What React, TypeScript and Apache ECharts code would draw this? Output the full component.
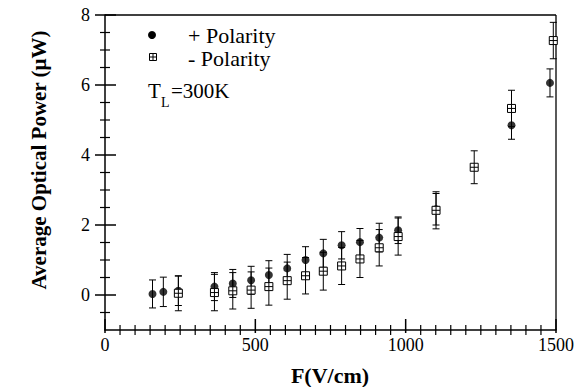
import React, { useEffect, useRef } from "react";
import * as echarts from "echarts";

// + Polarity (filled circles)
const fieldPlus = [158, 194, 244, 364, 425, 486, 545, 606, 667, 726, 787, 848, 912, 975, 1101, 1352, 1480];
const powerPlus = [0.03, 0.09, 0.12, 0.24, 0.33, 0.42, 0.57, 0.76, 1.0, 1.19, 1.42, 1.51, 1.64, 1.85, 2.45, 4.85, 6.06];
const errPlus = [0.4, 0.42, 0.42, 0.4, 0.4, 0.4, 0.41, 0.4, 0.38, 0.4, 0.39, 0.39, 0.41, 0.38, 0.45, 0.4, 0.4];

// - Polarity (open squares with cross)
const fieldMinus = [244, 364, 425, 486, 545, 606, 667, 726, 787, 848, 912, 975, 1101, 1228, 1352, 1491];
const powerMinus = [0.05, 0.07, 0.12, 0.14, 0.24, 0.41, 0.55, 0.68, 0.83, 1.03, 1.35, 1.67, 2.42, 3.65, 5.33, 7.27];
const errMinus = [0.5, 0.52, 0.52, 0.52, 0.53, 0.53, 0.52, 0.54, 0.53, 0.53, 0.52, 0.53, 0.53, 0.47, 0.52, 0.52];

// tick labels
const xTickLabels = [0, 500, 1000, 1500];
const yTickLabels = [0, 2, 4, 6, 8];
const xMinorStep = 50;
const yMinorStep = 0.5;

const FONT = "Liberation Serif";
const X_MIN = 0, X_MAX = 1500, Y_MIN = -1, Y_MAX = 8;

// error bar: data item = [x, y, err]
function errorRenderer(params: any, api: any) {
  const x = api.value(0);
  const y = api.value(1);
  const e = api.value(2);
  const p1 = api.coord([x, y + e]);
  const p2 = api.coord([x, y - e]);
  const w = 3.5;
  const style = { stroke: "#000", lineWidth: 1 };
  return {
    type: "group",
    children: [
      { type: "line", shape: { x1: p1[0], y1: p1[1], x2: p2[0], y2: p2[1] }, style },
      { type: "line", shape: { x1: p1[0] - w, y1: p1[1], x2: p1[0] + w, y2: p1[1] }, style },
      { type: "line", shape: { x1: p2[0] - w, y1: p2[1], x2: p2[0] + w, y2: p2[1] }, style },
    ],
  };
}

// open square with a cross: data item = [x, y]
function squareRenderer(params: any, api: any) {
  const p = api.coord([api.value(0), api.value(1)]);
  const h = 4;
  const style = { stroke: "#000", lineWidth: 1 };
  return {
    type: "group",
    children: [
      { type: "rect", shape: { x: p[0] - h, y: p[1] - h, width: 2 * h, height: 2 * h }, style: { fill: "#fff", stroke: "#000", lineWidth: 1 } },
      { type: "line", shape: { x1: p[0], y1: p[1] - h, x2: p[0], y2: p[1] + h }, style },
      { type: "line", shape: { x1: p[0] - h, y1: p[1], x2: p[0] + h, y2: p[1] }, style },
    ],
  };
}

// kind: 0 = x major, 1 = x minor, 2 = y major, 3 = y minor
function tickRenderer(params: any, api: any) {
  const v = api.value(0);
  const k = api.value(1);
  if (k < 2) {
    const p = api.coord([v, Y_MIN]);
    const inside = k === 0 ? 11 : 5;
    const outside = k === 0 ? 3 : 5;
    return {
      type: "line",
      shape: { x1: p[0], y1: p[1] - inside, x2: p[0], y2: p[1] + outside },
      style: { stroke: "#000", lineWidth: k === 0 ? 1.5 : 1.2 },
    };
  }
  const p = api.coord([X_MIN, v]);
  const inside = k === 2 ? 11 : 5;
  const outside = k === 2 ? 10 : 5;
  return {
    type: "line",
    shape: { x1: p[0] - outside, y1: p[1], x2: p[0] + inside, y2: p[1] },
    style: { stroke: "#000", lineWidth: k === 2 ? 1.5 : 1.2 },
  };
}

export default function App() {
  const ref = useRef<HTMLDivElement>(null);
  useEffect(() => {
    if (!ref.current) return;
    const chart = echarts.init(ref.current, undefined, { renderer: "svg" });
    const plusData = fieldPlus.map((f, i) => [f, powerPlus[i]]);
    const minusData = fieldMinus.map((f, i) => [f, powerMinus[i]]);
    const plusErr = fieldPlus.map((f, i) => [f, powerPlus[i], errPlus[i]]);
    const minusErr = fieldMinus.map((f, i) => [f, powerMinus[i], errMinus[i]]);

    // tick positions (kind 0..3), placed through the library's scales
    const ticks: number[][] = [];
    xTickLabels.forEach((v) => ticks.push([v, 0]));
    for (let v = X_MIN + xMinorStep; v < X_MAX; v += xMinorStep) {
      if (!xTickLabels.includes(v)) ticks.push([v, 1]);
    }
    yTickLabels.forEach((v) => ticks.push([v, 2]));
    for (let v = Y_MIN + yMinorStep; v < Y_MAX; v += yMinorStep) {
      if (!yTickLabels.includes(v)) ticks.push([v, 3]);
    }

    chart.setOption({
      animation: false,
      backgroundColor: "#fff",
      grid: { left: 105, right: 26, top: 15, bottom: 57 },
      xAxis: {
        type: "value",
        min: X_MIN,
        max: X_MAX,
        interval: 500,
        splitLine: { show: false },
        axisLine: { show: true, onZero: false, lineStyle: { color: "#000", width: 1.5 } },
        axisTick: { show: false },
        axisLabel: {
          formatter: (v: number) => String(v),
          margin: 6,
          fontSize: 18,
          fontFamily: FONT,
          color: "#000",
        },
      },
      yAxis: {
        type: "value",
        min: Y_MIN,
        max: Y_MAX,
        interval: 1,
        splitLine: { show: false },
        axisLine: { show: true, onZero: false, lineStyle: { color: "#000", width: 1.5 } },
        axisTick: { show: false },
        axisLabel: {
          formatter: (v: number) => (yTickLabels.includes(v) ? String(v) : ""),
          margin: 15,
          fontSize: 18,
          fontFamily: FONT,
          color: "#000",
        },
      },
      graphic: [
        // frame: top and right edges
        { type: "line", shape: { x1: 105, y1: 15, x2: 556, y2: 15 }, style: { stroke: "#000", lineWidth: 1.3 } },
        { type: "line", shape: { x1: 556, y1: 15, x2: 556, y2: 330 }, style: { stroke: "#000", lineWidth: 1.3 } },
        // axis titles
        {
          type: "text",
          x: 39,
          y: 160,
          rotation: Math.PI / 2,
          style: { text: "Average Optical Power (μW)", fontSize: 21, fontWeight: "bold", fontFamily: FONT, fill: "#000", align: "center", verticalAlign: "middle" },
        },
        {
          type: "text",
          x: 330,
          y: 375,
          style: { text: "F(V/cm)", fontSize: 22, fontWeight: "bold", fontFamily: FONT, fill: "#000", align: "center", verticalAlign: "middle" },
        },
        // legend
        { type: "circle", shape: { cx: 152, cy: 35, r: 4 }, style: { fill: "#000" } },
        { type: "rect", shape: { x: 149.5, y: 53.5, width: 7, height: 7 }, style: { fill: "#fff", stroke: "#000", lineWidth: 1 } },
        { type: "line", shape: { x1: 153, y1: 53.5, x2: 153, y2: 60.5 }, style: { stroke: "#000", lineWidth: 1 } },
        { type: "line", shape: { x1: 149.5, y1: 57, x2: 156.5, y2: 57 }, style: { stroke: "#000", lineWidth: 1 } },
        { type: "text", x: 188, y: 35, style: { text: "+ Polarity", fontSize: 22, fontFamily: FONT, fill: "#000", verticalAlign: "middle" } },
        { type: "text", x: 188, y: 58, style: { text: "- Polarity", fontSize: 22, fontFamily: FONT, fill: "#000", verticalAlign: "middle" } },
        // annotation T_L = 300K
        { type: "text", x: 148, y: 91, style: { text: "T", fontSize: 21, fontFamily: FONT, fill: "#000", verticalAlign: "middle" } },
        { type: "text", x: 161, y: 102, style: { text: "L", fontSize: 14, fontFamily: FONT, fill: "#000", verticalAlign: "middle" } },
        { type: "text", x: 171, y: 91, style: { text: "=300K", fontSize: 21, fontFamily: FONT, fill: "#000", verticalAlign: "middle" } },
      ],
      series: [
        { name: "plusErr", type: "custom", renderItem: errorRenderer, data: plusErr, z: 1, silent: true },
        { name: "minusErr", type: "custom", renderItem: errorRenderer, data: minusErr, z: 1, silent: true },
        {
          name: "+ Polarity",
          type: "scatter",
          symbol: "circle",
          symbolSize: 8,
          itemStyle: { color: "#000" },
          data: plusData,
          z: 2,
        },
        { name: "- Polarity", type: "custom", renderItem: squareRenderer, data: minusData, z: 3, silent: true },
        { name: "ticks", type: "custom", renderItem: tickRenderer, data: ticks, z: 5, silent: true, clip: false },
      ],
    });
    return () => chart.dispose();
  }, []);
  return (
    <div
      ref={ref}
      style={{ position: "fixed", left: 0, top: 0, width: 582, height: 387, background: "#fff" }}
    />
  );
}
